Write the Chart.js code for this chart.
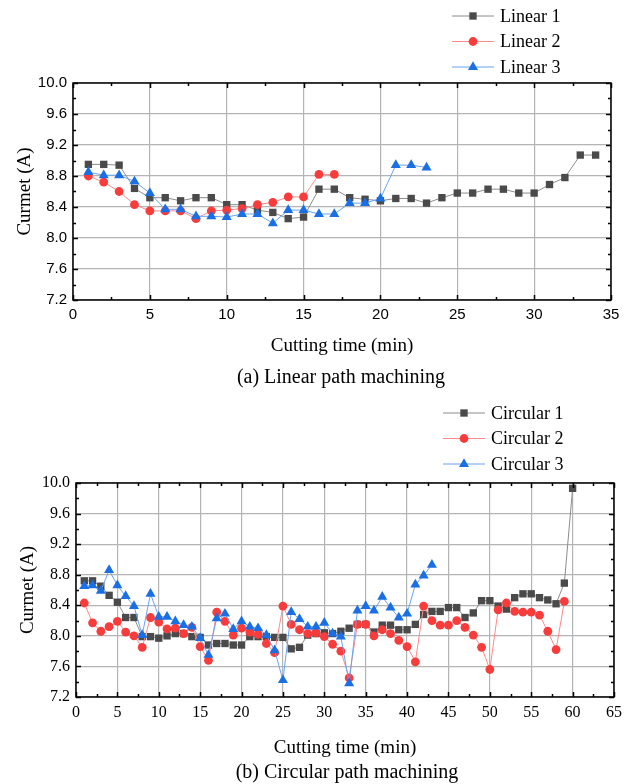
<!DOCTYPE html>
<html>
<head>
<meta charset="utf-8">
<title>Cutting current</title>
<script src="https://cdn.jsdelivr.net/npm/chart.js@4.4.1/dist/chart.umd.min.js"></script>
<style>
  html, body { margin: 0; padding: 0; background: #fff; }
  #page { position: relative; width: 634px; height: 784px; overflow: hidden; }
  .panel { position: absolute; left: 0; width: 634px; }
  .caption {
    position: absolute;
    font-family: "Liberation Serif", "Times New Roman", serif;
    font-size: 20px;
    color: #000;
    white-space: nowrap;
    transform: translate(-50%, -50%);
  }
</style>
</head>
<body>
<div id="page">
  <div class="panel" style="top:0;height:390px"><canvas id="linearChart" width="634" height="390"></canvas></div>
  <div class="panel" style="top:390px;height:394px"><canvas id="circularChart" width="634" height="394"></canvas></div>
  <div class="caption" style="left:341px;top:376px">(a) Linear path machining</div>
  <div class="caption" style="left:347px;top:771px">(b) Circular path machining</div>
</div>
<script>
// Data (current in A vs cutting time in min)
const linearMinutes = [1, 2, 3, 4, 5, 6, 7, 8, 9, 10, 11, 12, 13, 14, 15, 16, 17,
  18, 19, 20, 21, 22, 23, 24, 25, 26, 27, 28, 29, 30, 31, 32, 33, 34];
const linear1 = [8.95, 8.95, 8.94, 8.64, 8.52, 8.52, 8.48, 8.52, 8.52, 8.43, 8.43,
  8.36, 8.33, 8.25, 8.27, 8.63, 8.63, 8.52, 8.50, 8.48, 8.51, 8.51, 8.45, 8.52,
  8.58, 8.58, 8.63, 8.63, 8.58, 8.58, 8.69, 8.78, 9.07, 9.07];
const linear2 = [8.80, 8.72, 8.60, 8.43, 8.35, 8.35, 8.35, 8.25, 8.35, 8.36, 8.38,
  8.43, 8.46, 8.53, 8.53, 8.82, 8.82];
const linear3 = [8.85, 8.81, 8.81, 8.73, 8.58, 8.37, 8.37, 8.28, 8.28, 8.27, 8.31,
  8.31, 8.19, 8.36, 8.36, 8.31, 8.31, 8.45, 8.45, 8.51, 8.94, 8.94, 8.91];

const circularMinutes = [1, 2, 3, 4, 5, 6, 7, 8, 9, 10, 11, 12, 13, 14, 15, 16, 17,
  18, 19, 20, 21, 22, 23, 24, 25, 26, 27, 28, 29, 30, 31, 32, 33, 34, 35, 36, 37,
  38, 39, 40, 41, 42, 43, 44, 45, 46, 47, 48, 49, 50, 51, 52, 53, 54, 55, 56, 57,
  58, 59, 60];
const circular1 = [8.72, 8.72, 8.65, 8.53, 8.44, 8.24, 8.24, 7.99, 7.99, 7.97, 8.00,
  8.03, 8.03, 7.99, 7.98, 7.88, 7.90, 7.90, 7.88, 7.88, 7.99,
  7.99, 7.99, 7.98, 7.98, 7.83, 7.85, 8.01, 8.03, 8.04, 8.03, 8.06, 8.10, 8.15,
  8.15, 8.05, 8.14, 8.14, 8.08, 8.08, 8.15, 8.28, 8.32,
  8.32, 8.37, 8.37, 8.24, 8.30, 8.46, 8.46, 8.39, 8.35, 8.50, 8.55, 8.55, 8.50,
  8.47, 8.42, 8.69, 9.93];
const circular2 = [8.43, 8.17, 8.06, 8.12, 8.19, 8.05, 8.00, 7.85, 8.24, 8.18, 8.09,
  8.10, 8.03, 8.11, 7.86, 7.68, 8.31, 8.19, 8.01, 8.10, 8.05,
  8.02, 7.90, 7.78, 8.39, 8.15, 8.08, 8.03, 8.04, 7.99, 7.89, 7.80, 7.45, 8.15,
  8.15, 8.00, 8.08, 8.03, 7.94, 7.86, 7.66, 8.39, 8.20,
  8.14, 8.14, 8.20, 8.11, 8.01, 7.85, 7.56, 8.34, 8.43, 8.32, 8.31, 8.31, 8.27,
  8.06, 7.82, 8.45];
const circular3 = [8.65, 8.66, 8.59, 8.86, 8.66, 8.52, 8.39, 8.01, 8.55, 8.25, 8.25,
  8.19, 8.14, 8.12, 7.97, 7.75, 8.23, 8.29, 8.09, 8.19, 8.12,
  8.10, 8.01, 7.81, 7.42, 8.31, 8.22, 8.12, 8.12, 8.17, 8.03, 7.99, 7.38, 8.33,
  8.39, 8.33, 8.51, 8.37, 8.24, 8.29, 8.67, 8.79, 8.93];

const linearTimeTicks = [0, 5, 10, 15, 20, 25, 30, 35];
const circularTimeTicks = [0, 5, 10, 15, 20, 25, 30, 35, 40, 45, 50, 55, 60, 65];
const currentTicks = [7.2, 7.6, 8.0, 8.4, 8.8, 9.2, 9.6, 10.0];

const SERIF = '"Liberation Serif", "Times New Roman", serif';
const SANS = '"Liberation Sans", Arial, sans-serif';

const seriesStyles = [
  { line: "#8c8c8c", fill: "#4a4a4a", pointStyle: "rect", radius: 5.2, order: 3 },
  { line: "#ff8a8a", fill: "#f83c3c", pointStyle: "circle", radius: 4.4, order: 2 },
  { line: "#68a4f2", fill: "#1a6fe4", pointStyle: "triangle", radius: 5.8, order: 1 },
];

function toPoints(minutes, values) {
  return values.map((v, i) => ({ x: minutes[i], y: v }));
}

function makeDataset(label, minutes, values, style) {
  return {
    label: label,
    data: toPoints(minutes, values),
    borderColor: style.line,
    borderWidth: 1,
    backgroundColor: style.fill,
    pointBackgroundColor: style.fill,
    pointBorderColor: style.fill,
    pointBorderWidth: 0,
    pointStyle: style.pointStyle,
    pointRadius: style.radius,
    tension: 0,
    order: style.order,
  };
}

// Legend: line with marker in the middle, label on the right
const lineLegend = {
  id: "lineLegend",
  afterDraw(chart, args, opts) {
    const ctx = chart.ctx;
    ctx.save();
    chart.data.datasets.forEach((ds, i) => {
      const y = opts.top + i * opts.rowHeight;
      ctx.strokeStyle = ds.borderColor;
      ctx.lineWidth = 1;
      ctx.beginPath();
      ctx.moveTo(opts.left, y);
      ctx.lineTo(opts.left + opts.lineLength, y);
      ctx.stroke();
      ctx.fillStyle = ds.pointBackgroundColor;
      ctx.strokeStyle = ds.pointBorderColor;
      Chart.helpers.drawPoint(
        ctx,
        { pointStyle: ds.pointStyle, radius: ds.pointRadius, rotation: 0, borderWidth: 0 },
        opts.left + opts.lineLength / 2,
        y
      );
      ctx.fillStyle = "#000";
      ctx.font = opts.font;
      ctx.textBaseline = "middle";
      ctx.textAlign = "left";
      ctx.fillText(ds.label, opts.left + opts.lineLength + opts.gap, y + 1);
    });
    ctx.restore();
  },
};

// Frame plus inward major/minor ticks on all four sides
const innerTicks = {
  id: "innerTicks",
  afterDraw(chart) {
    const { ctx, chartArea: a, scales } = chart;
    ctx.save();
    ctx.strokeStyle = "#000";
    ctx.lineWidth = 1.5;
    ctx.strokeRect(a.left, a.top, a.right - a.left, a.bottom - a.top);

    const withMinor = (scale) => {
      const major = scale.ticks.map((t) => t.value);
      const minor = [];
      for (let i = 1; i < major.length; i++) minor.push((major[i - 1] + major[i]) / 2);
      return { major, minor };
    };

    const xs = withMinor(scales.x);
    const ys = withMinor(scales.y);
    ctx.beginPath();
    [[xs.major, 5], [xs.minor, 3]].forEach(([vals, len]) => {
      vals.forEach((v) => {
        const px = Math.round(scales.x.getPixelForValue(v)) + 0.5;
        ctx.moveTo(px, a.bottom);
        ctx.lineTo(px, a.bottom - len);
        ctx.moveTo(px, a.top);
        ctx.lineTo(px, a.top + len);
      });
    });
    [[ys.major, 5], [ys.minor, 3]].forEach(([vals, len]) => {
      vals.forEach((v) => {
        const py = Math.round(scales.y.getPixelForValue(v)) + 0.5;
        ctx.moveTo(a.left, py);
        ctx.lineTo(a.left + len, py);
        ctx.moveTo(a.right, py);
        ctx.lineTo(a.right - len, py);
      });
    });
    ctx.stroke();
    ctx.restore();
  },
};

function makeChart(id, cfg) {
  const ctx = document.getElementById(id);
  return new Chart(ctx, {
    type: "line",
    data: { datasets: cfg.datasets },
    options: {
      responsive: false,
      animation: false,
      devicePixelRatio: 1,
      layout: { padding: cfg.padding },
      plugins: {
        legend: { display: false },
        tooltip: { enabled: false },
        lineLegend: cfg.legend,
      },
      scales: {
        x: {
          type: "linear",
          min: cfg.xTicks[0],
          max: cfg.xTicks[cfg.xTicks.length - 1],
          afterBuildTicks: (scale) => {
            scale.ticks = cfg.xTicks.map((v) => ({ value: v }));
          },
          afterFit: (scale) => {
            scale.height = cfg.xHeight;
          },
          grid: { color: "#b4b4b4", lineWidth: 1.2, drawTicks: false },
          border: { display: false },
          ticks: {
            autoSkip: false,
            maxRotation: 0,
            padding: 6,
            color: "#000",
            font: { family: cfg.xTickFont, size: cfg.xTickSize },
          },
          title: {
            display: true,
            text: "Cutting time (min)",
            color: "#000",
            font: { family: SERIF, size: 19 },
            padding: { top: 0, bottom: cfg.xTitlePad },
          },
        },
        y: {
          type: "linear",
          min: 7.2,
          max: 10.0,
          afterBuildTicks: (scale) => {
            scale.ticks = currentTicks.map((v) => ({ value: v }));
          },
          afterFit: (scale) => {
            scale.width = cfg.yWidth;
          },
          grid: { color: "#b4b4b4", lineWidth: 1.2, drawTicks: false },
          border: { display: false },
          ticks: {
            autoSkip: false,
            padding: 6,
            color: "#000",
            font: { family: cfg.yTickFont, size: cfg.yTickSize },
            callback: (value) => Number(value).toFixed(1),
          },
          title: {
            display: true,
            text: "Curmet (A)",
            color: "#000",
            font: { family: SERIF, size: 19 },
            padding: { top: cfg.yTitlePad, bottom: 0 },
          },
        },
      },
    },
    plugins: [innerTicks, lineLegend],
  });
}

makeChart("linearChart", {
  datasets: [
    makeDataset("Linear 1", linearMinutes, linear1, seriesStyles[0]),
    makeDataset("Linear 2", linearMinutes, linear2, seriesStyles[1]),
    makeDataset("Linear 3", linearMinutes, linear3, seriesStyles[2]),
  ],
  padding: { top: 83, right: 23, bottom: 0, left: 0 },
  xTicks: linearTimeTicks,
  xHeight: 90,
  yWidth: 73,
  xTickFont: SANS,
  xTickSize: 15,
  yTickFont: SANS,
  yTickSize: 15,
  xTitlePad: 33,
  yTitlePad: 14,
  legend: { left: 452, top: 16, rowHeight: 25.5, lineLength: 42, gap: 6, font: "18px " + SERIF },
});

makeChart("circularChart", {
  datasets: [
    makeDataset("Circular 1", circularMinutes, circular1, seriesStyles[0]),
    makeDataset("Circular 2", circularMinutes, circular2, seriesStyles[1]),
    makeDataset("Circular 3", circularMinutes, circular3, seriesStyles[2]),
  ],
  padding: { top: 93, right: 20, bottom: 0, left: 0 },
  xTicks: circularTimeTicks,
  xHeight: 87,
  yWidth: 76,
  xTickFont: SERIF,
  xTickSize: 16,
  yTickFont: SERIF,
  yTickSize: 16,
  xTitlePad: 25,
  yTitlePad: 17,
  legend: { left: 443, top: 23, rowHeight: 25.5, lineLength: 42, gap: 6, font: "18px " + SERIF },
});
</script>
</body>
</html>
